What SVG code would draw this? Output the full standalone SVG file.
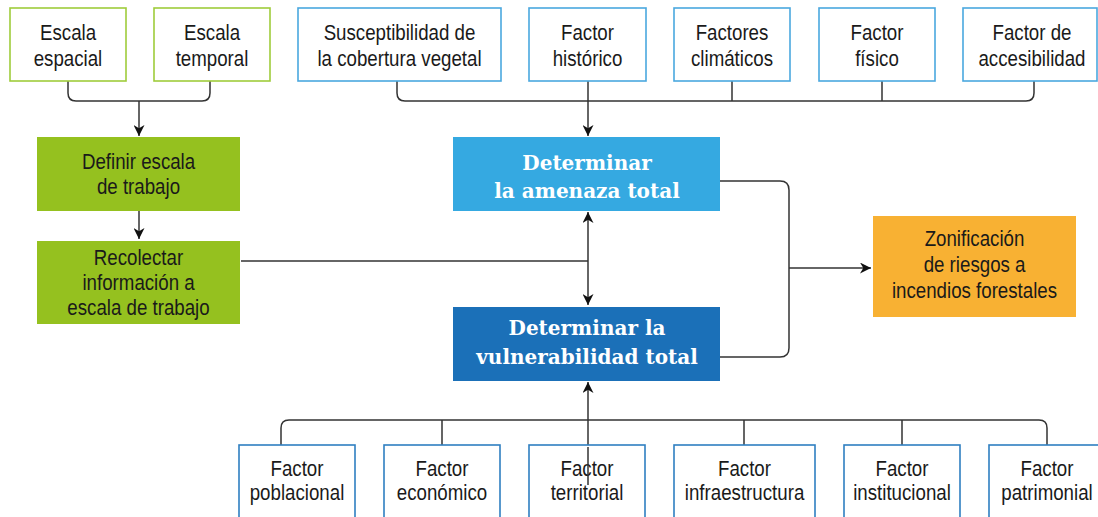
<svg xmlns="http://www.w3.org/2000/svg" width="1098" height="517" viewBox="0 0 1098 517">
<style>
.t{font-family:"Liberation Sans","Arial",sans-serif;font-size:22px;fill:#1a1a1a;text-anchor:middle;transform-box:fill-box;transform-origin:center;transform:scaleX(0.85)}
.h{font-family:"DejaVu Serif","Liberation Serif",serif;font-weight:bold;font-size:20px;fill:#ffffff;text-anchor:middle}
.gb{fill:#ffffff;stroke:#9fcc3b;stroke-width:1.6}
.bb{fill:#ffffff;stroke:#4aa8df;stroke-width:1.6}
.db{fill:#ffffff;stroke:#2f7fc1;stroke-width:1.6}
.gf{fill:#95c11f}
.c{fill:none;stroke:#333333;stroke-width:1.5}
</style>
<defs>
<marker id="ah" viewBox="0 0 10 10" refX="10" refY="5" markerWidth="11" markerHeight="11" markerUnits="userSpaceOnUse" orient="auto-start-reverse">
<path d="M0,0 L10,5 L0,10 L3,5 Z" fill="#111111"/>
</marker>
</defs>

<g id="connectors">
<path class="c" d="M68,81 V93 Q68,101 76,101 H202 Q210,101 210,93 V81"/>
<path class="c" d="M139,101 V136" marker-end="url(#ah)"/>
<path class="c" d="M139,211 V239" marker-end="url(#ah)"/>
<path class="c" d="M397,81 V93 Q397,101 405,101 H1026 Q1034,101 1034,93 V81"/>
<path class="c" d="M732,81 V101 M882,81 V101"/>
<path class="c" d="M588,81 V136" marker-end="url(#ah)"/>
<path class="c" d="M241,261 H588"/>
<path class="c" d="M588,212 V305" marker-start="url(#ah)" marker-end="url(#ah)"/>
<path class="c" d="M720,181 H780 Q789,181 789,190 V348 Q789,357 780,357 H720"/>
<path class="c" d="M789,268 H871" marker-end="url(#ah)"/>
<path class="c" d="M281,445 V428 Q281,420 289,420 H1039 Q1047,420 1047,428 V445"/>
<path class="c" d="M442,420 V445 M744,420 V445 M902,420 V445"/>
<path class="c" d="M588,485 V382" marker-end="url(#ah)"/>
</g>

<g id="escala-espacial">
<rect class="gb" x="10" y="8" width="116" height="73"/>
<text class="t" x="68" y="40">Escala</text>
<text class="t" x="68" y="66">espacial</text>
</g>
<g id="escala-temporal">
<rect class="gb" x="154" y="8" width="116" height="73"/>
<text class="t" x="212" y="40">Escala</text>
<text class="t" x="212" y="66">temporal</text>
</g>
<g id="definir-escala">
<rect class="gf" x="37" y="137" width="203" height="74"/>
<text class="t" x="138.5" y="169">Definir escala</text>
<text class="t" x="138.5" y="194">de trabajo</text>
</g>
<g id="recolectar">
<rect class="gf" x="37" y="241" width="203" height="83"/>
<text class="t" x="138.5" y="265">Recolectar</text>
<text class="t" x="138.5" y="290">información a</text>
<text class="t" x="138.5" y="315">escala de trabajo</text>
</g>

<g id="susceptibilidad">
<rect class="bb" x="298" y="8" width="203" height="73"/>
<text class="t" x="399.5" y="40">Susceptibilidad de</text>
<text class="t" x="399.5" y="66">la cobertura vegetal</text>
</g>
<g id="factor-historico">
<rect class="bb" x="529" y="8" width="117" height="73"/>
<text class="t" x="587.5" y="40">Factor</text>
<text class="t" x="587.5" y="66">histórico</text>
</g>
<g id="factores-climaticos">
<rect class="bb" x="674" y="8" width="116" height="73"/>
<text class="t" x="732" y="40">Factores</text>
<text class="t" x="732" y="66">climáticos</text>
</g>
<g id="factor-fisico">
<rect class="bb" x="819" y="8" width="116" height="73"/>
<text class="t" x="877" y="40">Factor</text>
<text class="t" x="877" y="66">físico</text>
</g>
<g id="factor-accesibilidad">
<rect class="bb" x="963" y="8" width="134" height="73"/>
<text class="t" x="1032" y="40">Factor de</text>
<text class="t" x="1032" y="66">accesibilidad</text>
</g>

<g id="amenaza-total">
<rect x="453" y="137" width="267" height="74" fill="#35a9e1"/>
<text class="h" x="587" y="170">Determinar</text>
<text class="h" x="587" y="198">la amenaza total</text>
</g>
<g id="vulnerabilidad-total">
<rect x="453" y="307" width="267" height="74" fill="#1b70b8"/>
<text class="h" x="587" y="335">Determinar la</text>
<text class="h" x="587" y="364">vulnerabilidad total</text>
</g>
<g id="zonificacion">
<rect x="873" y="216" width="203" height="101" fill="#f8b133"/>
<text class="t" x="974.5" y="246">Zonificación</text>
<text class="t" x="974.5" y="272">de riesgos a</text>
<text class="t" x="974.5" y="298">incendios forestales</text>
</g>

<g id="factor-poblacional">
<rect class="db" x="239" y="445" width="116" height="85"/>
<text class="t" x="297" y="476">Factor</text>
<text class="t" x="297" y="500">poblacional</text>
</g>
<g id="factor-economico">
<rect class="db" x="384" y="445" width="116" height="85"/>
<text class="t" x="442" y="476">Factor</text>
<text class="t" x="442" y="500">económico</text>
</g>
<g id="factor-territorial">
<rect class="db" x="529" y="445" width="116" height="85"/>
<text class="t" x="587" y="476">Factor</text>
<text class="t" x="587" y="500">territorial</text>
</g>
<g id="factor-infraestructura">
<rect class="db" x="674" y="445" width="141" height="85"/>
<text class="t" x="744.5" y="476">Factor</text>
<text class="t" x="744.5" y="500">infraestructura</text>
</g>
<g id="factor-institucional">
<rect class="db" x="844" y="445" width="116" height="85"/>
<text class="t" x="902" y="476">Factor</text>
<text class="t" x="902" y="500">institucional</text>
</g>
<g id="factor-patrimonial">
<rect class="db" x="989" y="445" width="116" height="85"/>
<text class="t" x="1047" y="476">Factor</text>
<text class="t" x="1047" y="500">patrimonial</text>
</g>
<path class="c" d="M588,485 V447"/>
</svg>
